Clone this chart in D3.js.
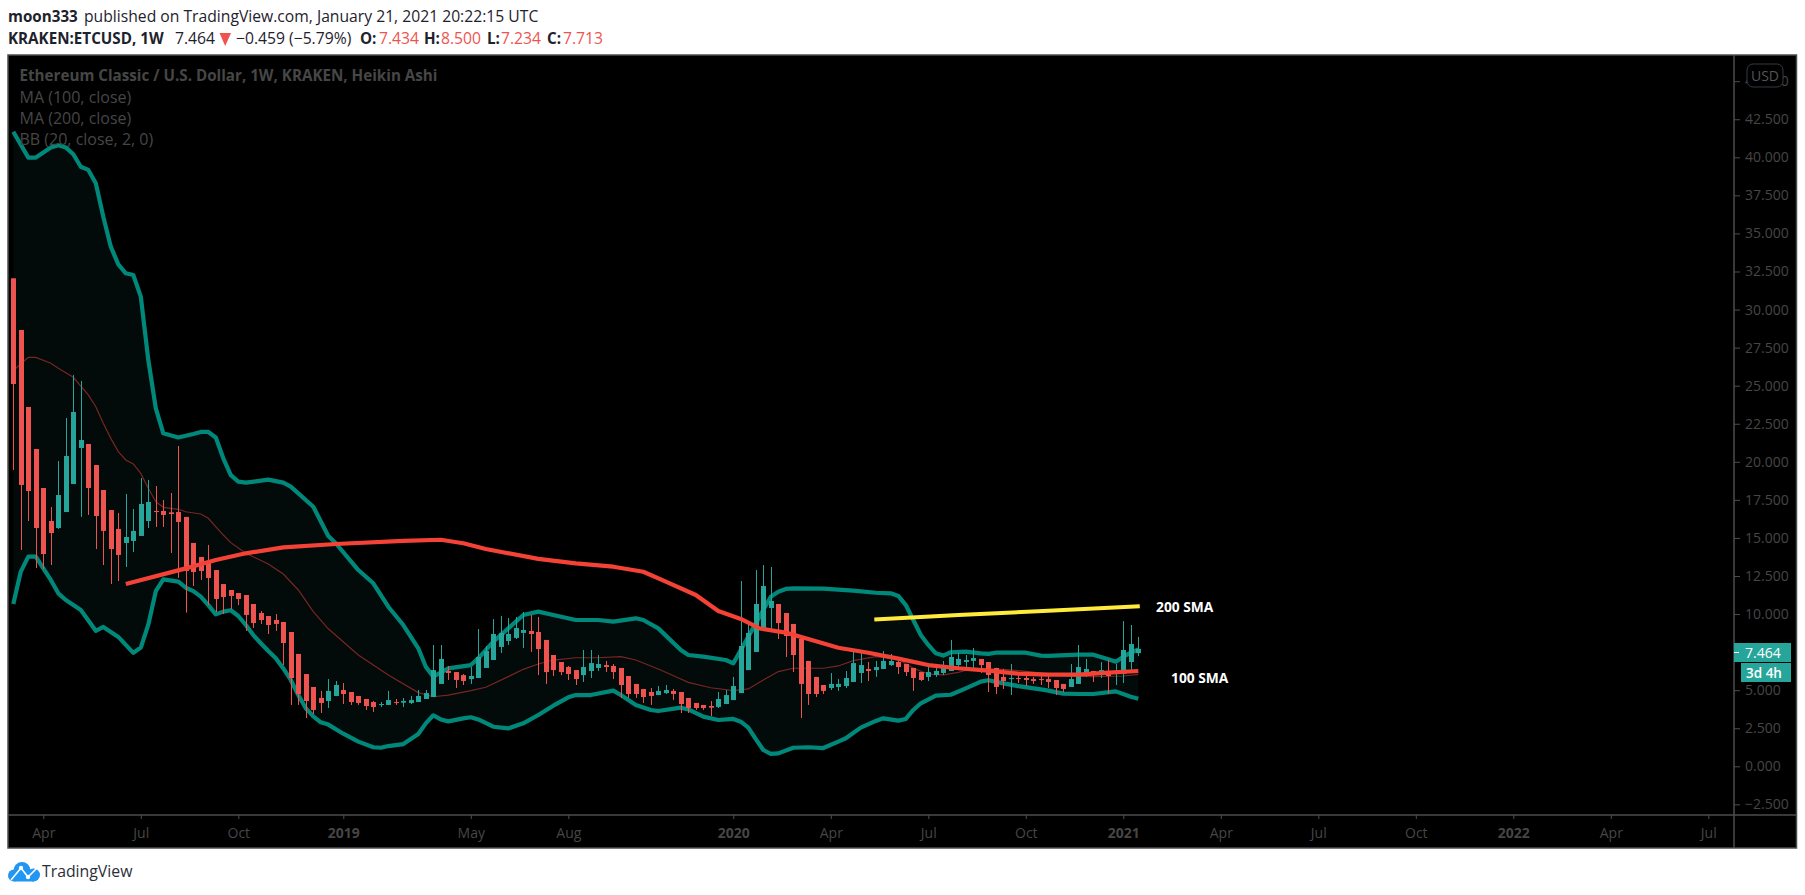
<!DOCTYPE html>
<html><head><meta charset="utf-8">
<script src="https://cdnjs.cloudflare.com/ajax/libs/d3/7.8.5/d3.min.js"></script>
<style>html,body{margin:0;padding:0;background:#fff;overflow:hidden}svg{display:block}</style>
</head><body><svg id="c" width="1805" height="895"></svg>
<script>
const opens=[32.05,28.66,23.60,20.84,18.28,16.11,15.65,16.70,18.54,20.91,
21.17,19.79,18.15,16.83,15.59,14.67,14.80,15.13,16.11,16.77,
16.77,16.68,16.70,16.38,14.67,13.75,13.42,12.89,11.97,11.58,
11.38,11.25,10.66,10.07,9.87,9.61,9.48,8.82,7.38,6.06,
5.21,4.49,4.29,4.62,5.01,4.88,4.62,4.42,4.22,4.05,
4.03,4.22,4.18,4.16,4.22,4.42,4.55,5.41,6.26,6.19,
5.99,5.73,5.80,6.46,6.98,7.84,8.23,8.43,8.76,8.89,
8.82,8.30,7.31,6.85,6.52,6.32,5.99,6.26,6.46,6.65,
6.59,6.46,5.93,5.41,5.08,4.88,4.68,4.81,4.95,4.88,
4.49,4.16,4.03,3.96,3.90,4.09,4.35,4.81,6.32,7.51,
9.02,10.40,10.66,10.07,9.35,8.36,6.92,5.87,5.34,5.14,
5.21,5.27,5.54,6.13,6.39,6.32,6.39,6.65,6.85,6.72,
6.46,6.19,5.87,6.00,6.13,6.26,6.65,6.85,6.92,7.05,
6.85,6.46,5.87,5.73,5.80,5.80,5.73,5.73,5.73,5.67,
5.41,5.21,5.41,5.93,6.26,6.06,6.26,6.10,6.06,6.85,7.434];
const closes=[25.11,18.48,18.08,15.65,13.94,15.32,17.82,20.38,23.27,21.43,
18.28,16.44,15.46,14.27,13.88,15.06,15.46,17.23,17.36,16.70,
16.51,16.57,16.05,12.83,12.76,12.83,12.37,10.99,11.12,11.19,
10.99,9.94,9.41,9.61,9.28,9.35,8.10,5.80,4.75,4.29,
3.70,4.16,4.95,5.34,4.75,4.22,4.16,3.96,3.89,4.09,
4.35,4.16,4.29,4.35,4.62,4.81,6.32,7.05,6.13,5.67,
5.60,5.93,7.18,7.57,8.69,8.76,8.69,9.08,8.95,8.69,
7.70,6.19,6.32,6.19,6.06,5.73,6.52,6.78,6.72,6.52,
6.19,5.34,4.75,4.75,4.55,4.62,4.95,5.01,4.75,4.09,
3.83,3.83,3.83,3.85,4.42,4.68,5.27,7.90,8.76,10.66,
11.84,10.86,9.41,8.56,7.31,5.41,4.75,4.75,4.95,5.41,
5.41,5.80,6.78,6.65,6.26,6.52,6.92,6.92,6.52,6.19,
5.80,5.67,6.19,6.26,6.46,7.18,7.05,6.98,7.11,6.65,
6.00,5.21,5.60,5.80,5.73,5.67,5.60,5.67,5.54,5.14,
5.08,5.73,6.52,6.39,6.19,6.32,5.93,6.19,7.64,8.03,7.713];
const highs=[32.05,28.66,23.60,20.84,18.28,17.03,20.05,22.88,25.70,25.31,
21.17,19.79,18.15,16.83,16.64,17.89,16.90,18.94,18.81,18.41,
17.49,17.95,21.04,16.38,14.67,13.75,14.54,12.89,11.97,11.58,
11.38,11.25,10.66,10.20,9.87,10.00,9.48,8.82,7.38,6.06,
5.21,4.95,5.73,5.60,5.47,4.88,4.62,4.42,4.29,4.22,
4.95,4.42,4.49,4.62,5.01,5.01,7.97,7.97,6.59,6.19,
6.06,6.52,9.02,7.90,9.67,9.87,9.74,9.81,10.13,9.94,
9.81,8.30,7.31,6.85,6.59,6.32,7.64,7.64,7.31,6.92,
6.72,6.46,5.93,5.41,5.08,5.14,5.27,5.34,5.08,4.88,
4.49,4.16,4.03,4.29,4.88,5.01,5.87,12.17,9.48,12.89,
13.22,13.09,10.66,10.07,9.35,8.36,6.92,5.87,5.34,6.13,
5.73,6.26,7.64,7.51,6.85,6.92,7.57,7.38,6.98,6.72,
6.46,6.19,6.79,6.59,6.92,8.30,7.44,7.31,7.77,7.05,
6.85,6.46,6.39,6.72,6.00,6.00,5.87,6.06,5.93,5.67,
5.41,6.72,7.97,7.05,6.26,6.85,6.98,6.72,9.54,9.28,8.50];
const lows=[19.46,14.21,16.11,13.02,12.96,13.22,15.59,16.70,18.54,16.38,
16.51,14.27,13.22,11.97,12.17,13.09,14.08,15.13,15.65,15.72,
15.72,14.01,12.37,10.09,11.84,12.24,10.59,10.13,10.00,10.33,
10.59,8.89,9.08,9.35,8.69,8.89,6.65,4.03,4.03,3.17,
3.44,3.50,3.83,4.62,4.09,4.03,4.03,3.70,3.57,3.89,
4.03,4.03,3.89,4.09,4.22,4.42,4.55,5.41,5.67,5.14,
5.34,5.41,5.80,6.46,6.98,7.44,7.97,8.36,7.77,7.51,
5.99,5.41,5.93,5.99,5.67,5.34,5.54,5.80,6.26,6.19,
5.73,4.49,4.49,4.49,4.16,4.03,4.68,4.75,4.35,3.50,
3.50,3.70,3.70,3.30,3.83,4.09,4.35,4.81,6.32,7.51,
9.02,8.89,8.36,7.18,6.19,3.17,4.03,4.55,4.75,5.01,
4.95,5.14,5.54,5.47,5.60,5.87,6.39,6.59,6.06,5.93,
4.95,5.60,5.60,5.87,6.00,6.26,6.52,6.39,6.46,6.13,
4.88,4.75,5.08,4.68,5.47,5.27,5.41,5.34,5.14,4.68,
4.88,5.21,5.41,5.87,5.54,5.80,4.75,5.34,5.47,6.19,7.234];

// [bar index, value] readings
const bbUpper=[[0,41.68],[2,39.98],[3,39.98],[5,40.65],[6,40.79],[7,40.65],[8,40.2],[9,39.38],[10,39.17],[11,38.29],[12,36.10],[13,34.13],[14,32.97],[15,32.38],[16,32.27],[17,30.85],[18,26.69],[19,23.51],[20,21.87],[22,21.60],[24,21.83],[25,21.96],[26,21.96],[27,21.60],[28,20.23],[29,19.13],[30,18.70],[31,18.63],[34,18.83],[36,18.63],[37,18.37],[40,17.05],[42,15.13],[43,14.65],[46,12.89],[48,12.02],[50,10.48],[52,9.28],[54,7.75],[55,6.54],[56,5.89],[58,6.43],[61,6.65],[62,7.09],[64,8.19],[66,9.06],[68,9.94],[70,10.16],[72,9.94],[75,9.61],[78,9.61],[80,9.50],[83,9.72],[84,9.61],[86,9.06],[89,7.64],[90,7.31],[92,7.20],[95,6.98],[96,6.76],[98,8.51],[99.5,9.83],[101,11.14],[102,11.47],[103,11.65],[104,11.69],[108,11.67],[112,11.54],[115,11.40],[117,11.36],[118,11.19],[119,10.59],[120,9.61],[121,8.62],[122,7.97],[123,7.42],[124,7.27],[125,7.49],[127,7.53],[129,7.42],[130,7.38],[131,7.46],[135,7.46],[137,7.27],[138,7.25],[142,7.33],[144,7.33],[146,7.03],[147,6.87],[148,7.20],[149,7.46],[150,7.68]];
const bbLower=[[0,10.66],[1,12.79],[2,13.77],[3,13.77],[4,13.0],[5,12.24],[6,11.36],[7,10.92],[9,10.27],[11,8.9],[12,9.15],[14,8.5],[16,7.45],[17,7.8],[18,9.3],[19,11.5],[20,12.28],[22,12.13],[23,11.73],[24,11.51],[25,11.14],[26,10.59],[27,9.98],[28,10.16],[29,10.25],[30,9.87],[31,9.28],[32,8.62],[33,8.08],[34,7.57],[35,7.09],[36,6.43],[37,5.67],[38,4.68],[39,3.81],[40,3.28],[41,2.89],[42,2.74],[44,2.14],[46,1.62],[48,1.25],[49,1.22],[50,1.33],[52,1.46],[54,2.12],[55,2.82],[56,3.35],[57,3.08],[58,2.95],[60,3.15],[61,3.22],[62,3.08],[64,2.60],[66,2.49],[68,2.82],[70,3.37],[72,3.98],[74,4.53],[75,4.68],[77,4.68],[80,4.97],[81,4.68],[83,4.03],[85,3.70],[86,3.63],[89,3.85],[90,3.74],[92,3.26],[94,3.04],[96,3.11],[97,2.93],[98,2.54],[99,1.79],[100,1.07],[101,0.81],[102,0.85],[104,1.22],[106,1.25],[108,1.20],[110,1.62],[111,1.84],[113,2.54],[115,2.98],[116,3.15],[118,3.00],[119,3.11],[120,3.70],[121,4.14],[123,4.64],[125,4.70],[127,5.12],[129,5.56],[130,5.65],[132,5.45],[134,5.27],[137,5.05],[138,4.97],[140,4.77],[142,4.75],[144,4.75],[147,4.92],[149,4.57],[150,4.44]];
const bbBasis=[[0,26.0],[2,26.86],[3,26.86],[5,26.47],[6,26.14],[8,25.55],[10,24.39],[11,23.62],[12,22.53],[13,21.54],[14,20.67],[15,20.12],[16,19.86],[17,19.24],[18,18.26],[19,17.38],[20,17.01],[22,16.88],[23,16.72],[25,16.57],[26,16.29],[28,15.19],[29,14.69],[31,13.99],[34,13.29],[36,12.63],[38,11.58],[40,10.16],[42,9.03],[46,7.31],[50,6.00],[54,4.84],[56,4.57],[58,4.68],[61,4.97],[63,5.19],[66,5.89],[68,6.37],[70,6.72],[72,6.98],[75,7.13],[78,7.13],[81,7.20],[83,6.98],[86,6.39],[89,5.73],[90,5.51],[93,5.16],[96,4.97],[98,5.08],[100,5.67],[102,6.22],[104,6.44],[108,6.44],[110,6.59],[112,6.94],[115,7.20],[118,7.03],[120,6.44],[122,6.06],[124,6.00],[126,6.17],[128,6.44],[132,6.37],[136,6.19],[140,5.93],[144,5.89],[148,5.93],[150,6.04]];
const ma100=[[15,11.97],[23,13.0],[27,13.55],[31,13.99],[36,14.38],[43,14.60],[52,14.80],[57,14.88],[60,14.65],[63,14.27],[70,13.62],[75,13.33],[80,13.11],[84,12.78],[87,12.13],[91,11.25],[94,10.2],[97,9.68],[99.5,9.06],[103,8.78],[106,8.36],[110,7.79],[114,7.46],[118,7.07],[122,6.65],[126,6.44],[130,6.28],[134,6.09],[138,6.02],[142,6.02],[146,6.15],[150,6.26]];
const ma200=[[114.8,9.65],[126,9.93],[138,10.22],[150.2,10.52]];

const priceTicks=d3.range(-2.5,45.01,2.5);
const timeTickBars=[4,17,30,44,61,74,96,109,122,135,148,161,174,187,200,213,226];
const timeTickLabels=["Apr","Jul","Oct","2019","May","Aug","2020","Apr","Jul","Oct","2021","Apr","Jul","Oct","2022","Apr","Jul"];

const UP="#26a69a",DOWN="#ef5350",FONT="'Open Sans',sans-serif",DIM="#464646",INK="#1e222d";
const svg=d3.select("#c").style("font-family",FONT);
const x=d3.scaleLinear().domain([0,150]).range([13.3,1138.3]);
const y=d3.scaleLinear().domain([0,40]).range([766.3,157.3]);

svg.append("rect").attr("x",8).attr("y",55).attr("width",1788.5).attr("height",793).attr("fill","#000").attr("stroke","#4d4d4d").attr("stroke-width",1.5);

const lineGen=d3.line().x(d=>x(d[0])).y(d=>y(d[1])).curve(d3.curveLinear);
svg.append("path").attr("d",lineGen(bbUpper.concat(bbLower.slice().reverse()))+"Z").attr("fill","#030a0a");
svg.append("path").attr("d",lineGen(bbBasis)).attr("fill","none").attr("stroke","#782622").attr("stroke-width",1.2);
[bbUpper,bbLower].forEach(s=>svg.append("path").attr("d",lineGen(s)).attr("fill","none").attr("stroke","#00897b").attr("stroke-width",4.2).attr("stroke-linejoin","round"));

const idx=d3.range(opens.length);
const col=i=>closes[i]>=opens[i]?UP:DOWN;
const cg=svg.append("g");
cg.selectAll("line").data(idx).join("line").attr("x1",i=>Math.round(x(i))+.5).attr("x2",i=>Math.round(x(i))+.5)
  .attr("y1",i=>y(highs[i])).attr("y2",i=>y(lows[i])).attr("stroke",col).attr("stroke-width",1);
cg.selectAll("rect").data(idx).join("rect").attr("x",i=>Math.round(x(i))-2).attr("width",5)
  .attr("y",i=>y(Math.max(opens[i],closes[i]))).attr("height",i=>Math.max(1,Math.abs(y(opens[i])-y(closes[i])))).attr("fill",col);

svg.append("path").attr("d",lineGen(ma100)).attr("fill","none").attr("stroke","#f44336").attr("stroke-width",4.2).attr("stroke-linejoin","round");
svg.append("path").attr("d",lineGen(ma200)).attr("fill","none").attr("stroke","#ffeb3b").attr("stroke-width",4);

const note=(t,px,py)=>svg.append("text").attr("x",px).attr("y",py).attr("fill","#fff").attr("font-weight",700).attr("font-size",13.8).text(t);
note("200 SMA",1156,612);note("100 SMA",1171,683);

// legend
svg.append("text").attr("x",19.5).attr("y",81).attr("fill",DIM).attr("font-size",15.2).attr("font-weight",700).text("Ethereum Classic / U.S. Dollar, 1W, KRAKEN, Heikin Ashi");
[["MA (100, close)",103],["MA (200, close)",124],["BB (20, close, 2, 0)",145]].forEach(d=>svg.append("text").attr("x",19.5).attr("y",d[1]).attr("fill",DIM).attr("font-size",16).text(d[0]));

// axes
svg.append("line").attr("x1",1734).attr("x2",1734).attr("y1",55).attr("y2",848).attr("stroke","#4d4d4d").attr("stroke-width",1.5);
svg.append("line").attr("x1",8).attr("x2",1796).attr("y1",815).attr("y2",815).attr("stroke","#4d4d4d").attr("stroke-width",1.5);
const ya=svg.append("g").attr("transform","translate(1734,0)").call(d3.axisRight(y).tickValues(priceTicks).tickFormat(d3.format(".3f")).tickSize(6).tickPadding(5));
ya.select(".domain").remove();
ya.selectAll("line").attr("stroke","#4d4d4d");
ya.selectAll("text").attr("fill",DIM).attr("font-size",14).attr("font-family",FONT);
const xa=svg.append("g").attr("transform","translate(0,815)").call(d3.axisBottom(x).tickValues(timeTickBars).tickFormat((d,i)=>timeTickLabels[i]).tickSize(4).tickPadding(9));
xa.select(".domain").remove();
xa.selectAll("line").attr("stroke","#4d4d4d");
xa.selectAll("text").attr("fill",DIM).attr("font-size",14).attr("font-family",FONT).attr("font-weight",(d,i)=>/^\d/.test(timeTickLabels[i])?700:400);

// currency badge
svg.append("rect").attr("x",1747).attr("y",64).attr("width",36).attr("height",23).attr("rx",6).attr("fill","#000").attr("stroke","#333a45");
svg.append("text").attr("x",1765).attr("y",80.5).attr("text-anchor","middle").attr("fill","#555").attr("font-size",14).text("USD");

// price tags
svg.append("rect").attr("x",1734).attr("y",643).attr("width",57).attr("height",19).attr("fill",UP);
svg.append("line").attr("x1",1734).attr("x2",1739).attr("y1",652.5).attr("y2",652.5).attr("stroke","#fff");
svg.append("text").attr("x",1745).attr("y",657.5).attr("fill","#fff").attr("font-size",14).text("7.464");
svg.append("rect").attr("x",1741).attr("y",663).attr("width",50).attr("height",19).attr("fill",UP);
svg.append("text").attr("x",1746).attr("y",677.5).attr("fill","#fff").attr("font-size",13.5).attr("font-weight",600).text("3d 4h");

// header
const head=(t,px,py,bold,c)=>svg.append("text").attr("x",px).attr("y",py).attr("font-size",bold?15.2:15.7).attr("font-weight",bold?700:400).attr("fill",c||INK).text(t);
head("moon333",8,22,1);
head("published on TradingView.com, January 21, 2021 20:22:15 UTC",84,22,0);
head("KRAKEN:ETCUSD, 1W",8,44,1);
head("7.464",175,44,0);
svg.append("path").attr("d","M219.5 33 H231 L225.2 46 Z").attr("fill",DOWN);
head("−0.459 (−5.79%)",236,44,0);
head("O:",360,44,1);head("7.434",379,44,0,DOWN);
head("H:",424,44,1);head("8.500",441,44,0,DOWN);
head("L:",487,44,1);head("7.234",501,44,0,DOWN);
head("C:",547,44,1);head("7.713",563,44,0,DOWN);

// footer logo
const logo=svg.append("g");
logo.append("circle").attr("cx",14).attr("cy",875.5).attr("r",6).attr("fill","#2196f3");
logo.append("circle").attr("cx",22).attr("cy",870.5).attr("r",8.5).attr("fill","#2196f3");
logo.append("circle").attr("cx",33.5).attr("cy",875).attr("r",6.5).attr("fill","#2196f3");
logo.append("rect").attr("x",14).attr("y",873).attr("width",20).attr("height",8.5).attr("fill","#2196f3");
logo.append("polyline").attr("points","11,880 21,868 28,877 37,868").attr("fill","none").attr("stroke","#fff").attr("stroke-width",1.6);
logo.append("circle").attr("cx",21).attr("cy",868).attr("r",2.2).attr("fill","#fff");
logo.append("circle").attr("cx",28).attr("cy",877).attr("r",2.2).attr("fill","#fff");
svg.append("text").attr("x",42).attr("y",877).attr("font-size",15.8).attr("fill","#2a2e39").text("TradingView");
</script></body></html>
